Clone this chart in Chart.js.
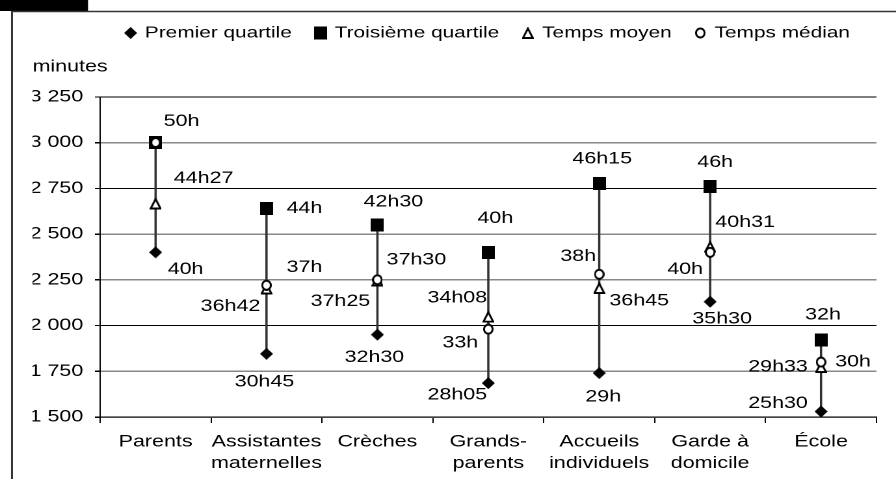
<!DOCTYPE html>
<html lang="fr">
<head>
<meta charset="utf-8">
<script src="https://cdn.jsdelivr.net/npm/chart.js@4.4.1/dist/chart.umd.min.js"></script>
<style>
  html, body { margin: 0; padding: 0; background: #fff; }
</style>
</head>
<body>
<canvas id="c" width="689" height="479" style="display:block;width:896px;height:479px"></canvas>
<script>
// Durée hebdomadaire d'accueil selon le mode de garde (en minutes)
var categories = ['Parents', ['Assistantes', 'maternelles'], 'Crèches', ['Grands-', 'parents'], ['Accueils', 'individuels'], ['Garde à', 'domicile'], 'École'];
var premierQuartile = [2400, 1845, 1950, 1685, 1740, 2130, 1530];
var troisiemeQuartile = [3000, 2640, 2550, 2400, 2775, 2760, 1920];
var tempsMoyen = [2667, 2202, 2245, 2048, 2205, 2431, 1773];
var tempsMedian = [3000, 2220, 2250, 1980, 2280, 2400, 1800];
var yTicks = [1500, 1750, 2000, 2250, 2500, 2750, 3000, 3250];

// placement des étiquettes autour des points (px à l'écran), null = pas d'étiquette
var q1Offsets = [[30, 17], [-2, 28], [-3, 23], [-31, 12], [4, 24], [12, 17], [-43, -8]];
var q3Offsets = [[26, -21], [38, 0], [16, -23], [7, -34], [3, -25], [5, -24], [2, -25]];
var meanOffsets = [[48, -25], [-36, 18], [-37, 21], [-31, -19], [40, 13], [35, -24], [-43, 0]];
var medianOffsets = [null, [38, -18], [39, -20], [-28, 14], [-21, -18], [-25, 17], [32, 0]];

// le dessin est étiré horizontalement à l'affichage
var STRETCH = 896 / 689;

function heures(v) {
  var h = Math.floor(v / 60), m = v % 60;
  return m ? h + 'h' + (m < 10 ? '0' + m : m) : h + 'h';
}

function makeMarker(draw, wDisp, hDisp) {
  var s = 4, w = Math.round(wDisp / STRETCH);
  var c = document.createElement('canvas');
  c.width = w * s; c.height = hDisp * s;
  var g = c.getContext('2d');
  g.scale(s * w / wDisp, s);
  draw(g, wDisp, hDisp);
  var img = new Image();
  img.width = w; img.height = hDisp;
  img.src = c.toDataURL();
  return img;
}

var diamond = makeMarker(function (g, w, h) {
  g.fillStyle = '#000';
  g.beginPath();
  g.moveTo(w / 2, 0); g.lineTo(w, h / 2); g.lineTo(w / 2, h); g.lineTo(0, h / 2);
  g.closePath(); g.fill();
}, 13, 12);
var square = makeMarker(function (g, w, h) {
  g.fillStyle = '#000';
  g.fillRect(0, 0, w, h);
}, 13, 13);
var triangle = makeMarker(function (g, w, h) {
  g.lineWidth = 2; g.strokeStyle = '#000'; g.fillStyle = '#fff';
  g.beginPath();
  g.moveTo(w / 2, 1.5); g.lineTo(w - 1, h - 1); g.lineTo(1, h - 1);
  g.closePath(); g.fill(); g.stroke();
}, 12, 12);
var circle = makeMarker(function (g, w, h) {
  g.lineWidth = 2; g.strokeStyle = '#000'; g.fillStyle = '#fff';
  g.beginPath();
  g.arc(w / 2, h / 2, w / 2 - 1, 0, Math.PI * 2);
  g.fill(); g.stroke();
}, 11, 11);

var framePlugin = {
  id: 'frame',
  beforeDraw: function (chart) {
    var ctx = chart.ctx;
    ctx.save();
    ctx.fillStyle = '#fff';
    ctx.fillRect(0, 0, chart.width, chart.height);
    ctx.fillStyle = '#000';
    ctx.fillRect(0, 0, 88 / STRETCH, 11);
    ctx.strokeStyle = '#333';
    ctx.lineWidth = 1.5;
    ctx.beginPath();
    ctx.moveTo(12 / STRETCH, chart.height);
    ctx.lineTo(12 / STRETCH, 11.5);
    ctx.lineTo(chart.width, 11.5);
    ctx.stroke();
    ctx.restore();
  }
};

var labelsPlugin = {
  id: 'valueLabels',
  afterDatasetsDraw: function (chart) {
    var ctx = chart.ctx;
    var series = [
      [0, premierQuartile, q1Offsets],
      [1, troisiemeQuartile, q3Offsets],
      [2, tempsMoyen, meanOffsets],
      [3, tempsMedian, medianOffsets]
    ];
    ctx.save();
    ctx.fillStyle = '#000';
    ctx.font = '16.5px "Liberation Sans", Arial, sans-serif';
    ctx.textAlign = 'center';
    ctx.textBaseline = 'middle';
    series.forEach(function (s) {
      var meta = chart.getDatasetMeta(s[0]);
      s[1].forEach(function (v, i) {
        var off = s[2][i];
        if (!off) return;
        var pt = meta.data[i];
        ctx.fillText(heures(v), pt.x + off[0] / STRETCH, pt.y + off[1]);
      });
    });
    ctx.restore();
  }
};

Chart.defaults.font.family = '"Liberation Sans", Arial, sans-serif';
Chart.defaults.font.size = 16.5;
Chart.defaults.color = '#000';

function pointSet(label, data, style, order) {
  return {
    type: 'line',
    label: label,
    data: data,
    showLine: false,
    pointStyle: style,
    pointRadius: 6,
    pointHoverRadius: 6,
    order: order
  };
}

Promise.all([diamond, square, triangle, circle].map(function (im) { return im.decode(); })).then(function () {
  new Chart(document.getElementById('c'), {
    type: 'bar',
    data: {
      labels: categories,
      datasets: [
        pointSet('Premier quartile', premierQuartile, diamond, 4),
        pointSet('Troisième quartile', troisiemeQuartile, square, 3),
        pointSet('Temps moyen', tempsMoyen, triangle, 2),
        pointSet('Temps médian', tempsMedian, circle, 1),
        {
          type: 'bar',
          label: 'écart',
          data: premierQuartile.map(function (v, i) { return [v, troisiemeQuartile[i]]; }),
          backgroundColor: '#333',
          barThickness: 1.1,
          order: 5
        }
      ]
    },
    options: {
      responsive: false,
      animation: false,
      devicePixelRatio: 2,
      layout: { padding: { left: 25, right: 15, top: 6, bottom: 0 } },
      plugins: {
        legend: {
          fullSize: false,
          align: 'center',
          labels: {
            usePointStyle: true,
            boxWidth: 6,
            padding: 19,
            font: { size: 16 },
            filter: function (item) { return item.datasetIndex < 4; },
            sort: function (a, b) { return a.datasetIndex - b.datasetIndex; }
          }
        },
        title: {
          display: true,
          text: 'minutes',
          align: 'start',
          weight: 500,
          fullSize: true,
          font: { size: 16.5, weight: 'normal' },
          padding: { top: 6, bottom: 20 }
        },
        tooltip: { enabled: false }
      },
      scales: {
        x: {
          offset: true,
          afterFit: function (scale) { scale.height = 62; },
          grid: {
            offset: true,
            drawOnChartArea: true,
            color: function (c) { return c.index === categories.length ? '#000' : 'rgba(0,0,0,0)'; },
            tickColor: '#000',
            tickLength: 6
          },
          border: { color: '#000', width: 1 },
          ticks: { padding: 8, maxRotation: 0, autoSkip: false, font: { size: 16.5, lineHeight: 1.32 } }
        },
        y: {
          min: yTicks[0],
          max: yTicks[yTicks.length - 1],
          afterFit: function (scale) { scale.width = 52; },
          grid: {
            color: function (c) { return [3250, 2750, 2000].indexOf(c.tick && c.tick.value) >= 0 ? '#000' : '#888'; },
            lineWidth: function (c) { return [3250, 2750, 2000].indexOf(c.tick && c.tick.value) >= 0 ? 1 : 1.5; },
            tickColor: '#000',
            tickLength: 4
          },
          border: { color: '#000', width: 1 },
          ticks: {
            stepSize: yTicks[1] - yTicks[0],
            padding: 9,
            callback: function (v) { return String(v).replace(/\B(?=(\d{3})+(?!\d))/g, ' '); }
          }
        }
      }
    },
    plugins: [framePlugin, labelsPlugin]
  });
});
</script>
</body>
</html>
